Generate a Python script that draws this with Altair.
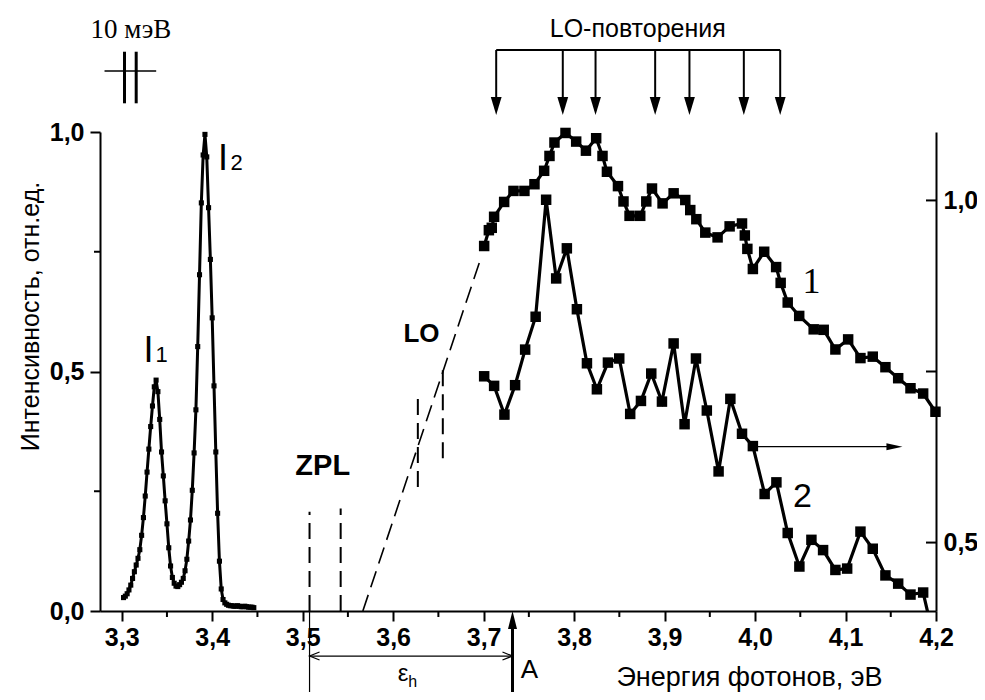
import altair as alt
import pandas as pd

# ---------------- data ----------------
# exciton lines I1 / I2 (left axis)
peak_E = [3.302, 3.304, 3.306, 3.308, 3.310, 3.312, 3.314, 3.316, 3.318, 3.320,
          3.322, 3.324, 3.326, 3.328, 3.330, 3.332, 3.334, 3.336, 3.338, 3.340,
          3.342, 3.344, 3.346, 3.348, 3.350, 3.352, 3.354, 3.356, 3.358, 3.360,
          3.362, 3.364, 3.366, 3.368, 3.370, 3.372, 3.374, 3.376, 3.378, 3.380,
          3.382, 3.384, 3.386, 3.388, 3.390, 3.392, 3.394, 3.396, 3.398, 3.400,
          3.402, 3.404, 3.406, 3.408, 3.410, 3.412, 3.414, 3.416, 3.418, 3.420,
          3.422, 3.424, 3.426, 3.428, 3.430, 3.432, 3.434, 3.436, 3.438, 3.440,
          3.442, 3.444, 3.446]
peak_I = [0.028, 0.031, 0.036, 0.044, 0.054, 0.068, 0.082, 0.096, 0.110, 0.128,
          0.158, 0.195, 0.240, 0.290, 0.338, 0.385, 0.428, 0.468, 0.482, 0.458,
          0.400, 0.332, 0.282, 0.230, 0.182, 0.132, 0.094, 0.070, 0.058, 0.052,
          0.051, 0.055, 0.060, 0.068, 0.084, 0.108, 0.146, 0.190, 0.252, 0.330,
          0.420, 0.552, 0.702, 0.852, 0.952, 0.995, 0.948, 0.842, 0.734, 0.612,
          0.470, 0.332, 0.204, 0.104, 0.046, 0.024, 0.017, 0.014, 0.012, 0.011,
          0.011, 0.010, 0.010, 0.011, 0.010, 0.009, 0.009, 0.010, 0.009, 0.008,
          0.008, 0.008, 0.007]

# curve 1 (left axis)
c1_E = [3.7006, 3.7058, 3.7090, 3.7116, 3.7227, 3.7330, 3.7451, 3.7562, 3.7669, 3.7728,
        3.7783, 3.7905, 3.8023, 3.8131, 3.8244, 3.8314, 3.8363, 3.8485, 3.8546, 3.8613,
        3.8731, 3.8798, 3.8861, 3.8978, 3.9100, 3.9229, 3.9284, 3.9351, 3.9450, 3.9586,
        3.9719, 3.9856, 3.9887, 3.9915, 3.9976, 4.0101, 4.0233, 4.0283, 4.0361, 4.0488,
        4.0648, 4.0759, 4.0888, 4.1029, 4.1165, 4.1301, 4.1441, 4.1582, 4.1718, 4.1858,
        4.1994]
c1_I = [0.762, 0.795, 0.800, 0.823, 0.854, 0.877, 0.877, 0.891, 0.919, 0.950,
        0.978, 0.998, 0.980, 0.961, 0.987, 0.950, 0.917, 0.887, 0.855, 0.825,
        0.825, 0.855, 0.882, 0.851, 0.872, 0.858, 0.837, 0.818, 0.790, 0.780,
        0.803, 0.809, 0.784, 0.756, 0.714, 0.750, 0.718, 0.685, 0.644, 0.616,
        0.588, 0.587, 0.546, 0.567, 0.528, 0.531, 0.509, 0.486, 0.465, 0.454,
        0.416]

# curve 2 (right axis)
c2_E = [3.7006, 3.7116, 3.7230, 3.7348, 3.7459, 3.7575, 3.7691, 3.7802, 3.7920, 3.8031,
        3.8142, 3.8252, 3.8374, 3.8499, 3.8620, 3.8739, 3.8853, 3.8971, 3.9100, 3.9221,
        3.9347, 3.9467, 3.9597, 3.9727, 3.9856, 3.9976, 4.0106, 4.0236, 4.0361, 4.0490,
        4.0623, 4.0752, 4.0888, 4.1018, 4.1165, 4.1301, 4.1441, 4.1582, 4.1718, 4.1858,
        4.1994]
c2_I = [0.743, 0.729, 0.687, 0.730, 0.782, 0.830, 1.001, 0.886, 0.930, 0.841,
        0.762, 0.724, 0.763, 0.769, 0.688, 0.707, 0.747, 0.706, 0.791, 0.673,
        0.769, 0.693, 0.604, 0.710, 0.659, 0.641, 0.571, 0.588, 0.514, 0.465,
        0.504, 0.489, 0.460, 0.462, 0.516, 0.491, 0.452, 0.440, 0.424, 0.427,
        0.349]

# axes ticks
x_major = [3.3, 3.4, 3.5, 3.6, 3.7, 3.8, 3.9, 4.0, 4.1, 4.2]
x_minor = [3.35, 3.45, 3.55, 3.65, 3.75, 3.85, 3.95, 4.05, 4.15]
yl_major = [0.0, 0.5, 1.0]
yl_minor = [0.25, 0.75]
yr_major = [0.5, 1.0]
yr_inner = [0.5, 0.75, 1.0]

# annotation geometry (data units: E in eV, v on left axis)
zpl_E = [3.5076, 3.5420]
zpl_top = [0.207, 0.214]
lo_E = [3.6273, 3.6549]
lo_lo = [0.259, 0.319]
lo_hi = [0.447, 0.509]
ext_E = [3.5665, 3.6977]
ext_I = [0.0, 0.741]
rep_E = [3.7139, 3.7875, 3.8237, 3.8896, 3.9275, 3.9876, 4.0278]
rep_bar_v = 1.1712
rep_tip_v = 1.0355
bar10_E = [3.281, 3.3381]
bar10_v = 1.1273
bar10_ticks_E = [3.3031, 3.3160]
bar10_ticks_v = [1.0599, 1.1676]
arrow2_E = [3.9977, 4.1629]
arrow2_v = 0.343
eps_line_E = 3.5076
eps_line_v = [0.0, -0.170]
eps_arrow_E = [3.5076, 3.7319]
eps_arrow_v = -0.094
A_E = 3.7319
A_v = [-0.180, 0.0]

SANS = "Liberation Sans"
SERIF = "Liberation Serif"
W, H = 836, 479

XS = alt.Scale(domain=[3.276, 4.2], nice=False, zero=False)
YL = alt.Scale(domain=[0.0, 1.0], nice=False, zero=False)
YR = alt.Scale(domain=[0.4, 1.1], nice=False, zero=False)

common_axis = dict(tickWidth=2, tickColor="black", domainColor="black", domainWidth=2,
                   labelFont=SANS, labelFontSize=25, labelFontWeight="bold",
                   labelColor="black", grid=False, title=None, labelOverlap=False,
                   format=".1f", labelExpr="replace(datum.label, '.', ',')")

x_axis = alt.Axis(values=x_major, tickSize=10, labelPadding=4, labelFlush=False, **common_axis)
yl_axis = alt.Axis(values=yl_major, tickSize=10, labelPadding=6, orient="left", **common_axis)
yr_axis = alt.Axis(values=yr_major, tickSize=0, ticks=False, labelPadding=7, orient="right",
                   **common_axis)


def X(field="E"):
    return alt.X(f"{field}:Q", scale=XS, axis=x_axis)


def YLf(field="v"):
    return alt.Y(f"{field}:Q", scale=YL, axis=yl_axis)


def YRf(field="v"):
    return alt.Y(f"{field}:Q", scale=YR, axis=yr_axis)


# ------------- left group -------------
df_peak = pd.DataFrame({"E": peak_E, "v": peak_I})
df_c1 = pd.DataFrame({"E": c1_E, "v": c1_I})

peak_line = alt.Chart(df_peak).mark_line(color="black", strokeWidth=3).encode(x=X(), y=YLf())
peak_pts = alt.Chart(df_peak).mark_point(shape="square", filled=True, size=26,
                                         color="black", opacity=1).encode(x=X(), y=YLf())
c1_line = alt.Chart(df_c1).mark_line(color="black", strokeWidth=3.2).encode(x=X(), y=YLf())
c1_pts = alt.Chart(df_c1).mark_point(shape="square", filled=True, size=110,
                                     color="black", opacity=1).encode(x=X(), y=YLf())

# minor ticks
xmin_ticks = alt.Chart(pd.DataFrame({"E": x_minor})).mark_rule(
    color="black", strokeWidth=2).encode(x=X(), y=alt.value(H), y2=alt.value(H + 6))
ymin_ticks = alt.Chart(pd.DataFrame({"v": yl_minor})).mark_rule(
    color="black", strokeWidth=2).encode(y=YLf(), x=alt.value(-6), x2=alt.value(0))

# dashed lines
df_zpl = pd.DataFrame({"E": zpl_E, "v": [0.0, 0.0], "v2": zpl_top})
zpl_rules = alt.Chart(df_zpl).mark_rule(color="black", strokeWidth=2,
                                        strokeDash=[16, 8]).encode(
    x=X(), y=YLf(), y2="v2:Q")
df_lo = pd.DataFrame({"E": lo_E, "v": lo_lo, "v2": lo_hi})
lo_rules = alt.Chart(df_lo).mark_rule(color="black", strokeWidth=2,
                                      strokeDash=[16, 8]).encode(
    x=X(), y=YLf(), y2="v2:Q")
df_ext = pd.DataFrame({"E": [ext_E[0]], "E2": [ext_E[1]], "v": [ext_I[0]], "v2": [ext_I[1]]})
ext_rule = alt.Chart(df_ext).mark_rule(color="black", strokeWidth=1.6,
                                       strokeDash=[17, 8]).encode(
    x=X(), x2="E2:Q", y=YLf(), y2="v2:Q")

# solid annotation segments
seg_rows = []
seg_rows.append((rep_E[0], rep_E[-1], rep_bar_v, rep_bar_v, 2))
for e in rep_E:
    seg_rows.append((e, e, rep_bar_v, rep_tip_v + 0.01, 2))
seg_rows.append((bar10_E[0], bar10_E[1], bar10_v, bar10_v, 1.3))
for e in bar10_ticks_E:
    seg_rows.append((e, e, bar10_ticks_v[0], bar10_ticks_v[1], 3))
seg_rows.append((arrow2_E[0], arrow2_E[1] - 0.008, arrow2_v, arrow2_v, 1.2))
seg_rows.append((eps_line_E, eps_line_E, eps_line_v[0], eps_line_v[1], 1.2))
seg_rows.append((eps_arrow_E[0], eps_arrow_E[1], eps_arrow_v, eps_arrow_v, 1.2))
seg_rows.append((A_E, A_E, A_v[0], A_v[1] - 0.02, 3))
df_seg = pd.DataFrame(seg_rows, columns=["E", "E2", "v", "v2", "w"])
segs = alt.Chart(df_seg).mark_rule(color="black").encode(
    x=X(), x2="E2:Q", y=YLf(), y2="v2:Q",
    strokeWidth=alt.StrokeWidth("w:Q", scale=None))

# arrowheads (tip at the data point)
down_head = alt.Chart(pd.DataFrame({"E": rep_E, "v": [rep_tip_v] * len(rep_E)})).mark_point(
    shape="M-0.3,-1L0.3,-1L0,0Z", filled=True, size=1296, color="black", opacity=1).encode(
    x=X(), y=YLf())
up_head = alt.Chart(pd.DataFrame({"E": [A_E], "v": [A_v[1]]})).mark_point(
    shape="M-0.25,1L0.25,1L0,0Z", filled=True, size=1296, color="black", opacity=1).encode(
    x=X(), y=YLf())
right_head = alt.Chart(pd.DataFrame({"E": [arrow2_E[1]], "v": [arrow2_v]})).mark_point(
    shape="M-1,-0.22L0,0L-1,0.22Z", filled=True, size=1024, color="black", opacity=1).encode(
    x=X(), y=YLf())
eps_heads = alt.Chart(pd.DataFrame({"E": eps_arrow_E, "v": [eps_arrow_v] * 2,
                                    "s": ["l", "r"]})).mark_point(
    filled=False, size=400, color="black", opacity=1, strokeWidth=1.2).encode(
    x=X(), y=YLf(),
    shape=alt.Shape("s:N", scale=alt.Scale(domain=["l", "r"],
                                           range=["M1,-0.4L0,0L1,0.4", "M-1,-0.4L0,0L-1,0.4"]),
                    legend=None))


# texts
def texts(rows, **kw):
    df = pd.DataFrame(rows, columns=["E", "v", "t"])
    return alt.Chart(df).mark_text(color="black", **kw).encode(x=X(), y=YLf(), text="t:N")


t_sans24 = texts([(3.8704, 1.1977, "LO-повторения")], font=SANS, fontSize=25,
                 baseline="alphabetic", align="center")
t_xtitle = texts([(3.9939, -0.156, "Энергия фотонов, эВ")], font=SANS, fontSize=27,
                 baseline="alphabetic", align="center")
t_ytitle = texts([(3.1992, 0.6148, "Интенсивность, отн.ед.")], font=SANS, fontSize=25,
                 baseline="middle", align="center", angle=270)
t_A = texts([(3.7507, -0.140, "A")], font=SANS, fontSize=26, baseline="alphabetic",
            align="center")
t_eps = texts([(3.6110, -0.146, "ε")], font=SANS, fontSize=24, baseline="alphabetic",
              align="center")
t_h = texts([(3.6215, -0.158, "h")], font=SANS, fontSize=16, baseline="alphabetic",
            align="center")
t_bold = texts([(3.5222, 0.3027, "ZPL")], font=SANS, fontSize=29, fontWeight="bold",
               baseline="middle", align="center")
t_lo = texts([(3.6313, 0.578, "LO")], font=SANS, fontSize=26, fontWeight="bold",
             baseline="middle", align="center")
t_I = texts([(3.3296, 0.52, "I"), (3.4120, 0.921, "I")], font=SANS, fontSize=36,
            baseline="alphabetic", align="center")
t_sub = texts([(3.3440, 0.52, "1"), (3.4269, 0.921, "2")], font=SANS, fontSize=22,
              baseline="alphabetic", align="center")
t_serif = texts([(3.3101, 1.196, "10 мэВ")], font=SERIF, fontSize=27,
                baseline="alphabetic", align="center")
t_one = texts([(4.0624, 0.664, "1")], font=SERIF, fontSize=36, baseline="alphabetic",
              align="center")
t_two = texts([(4.0524, 0.217, "2")], font=SANS, fontSize=34, baseline="alphabetic",
              align="center")

left_group = alt.layer(
    peak_line, peak_pts, c1_line, c1_pts, xmin_ticks, ymin_ticks,
    zpl_rules, lo_rules, ext_rule, segs, down_head, up_head, right_head, eps_heads,
    t_sans24, t_xtitle, t_ytitle, t_A, t_eps, t_h, t_bold, t_lo, t_I, t_sub,
    t_serif, t_one, t_two)

# ------------- right group -------------
df_c2 = pd.DataFrame({"E": c2_E, "v": c2_I})
c2_line = alt.Chart(df_c2).mark_line(color="black", strokeWidth=3.2, clip=True).encode(
    x=X(), y=YRf())
c2_pts = alt.Chart(df_c2).mark_point(shape="square", filled=True, size=110, color="black",
                                     opacity=1, clip=True).encode(x=X(), y=YRf())
r_ticks = alt.Chart(pd.DataFrame({"v": yr_inner})).mark_rule(
    color="black", strokeWidth=2).encode(y=YRf(), x=alt.value(W - 10), x2=alt.value(W))

right_group = alt.layer(c2_line, c2_pts, r_ticks)

chart = alt.layer(left_group, right_group).resolve_scale(y="independent").properties(
    width=W, height=H,
    autosize=alt.AutoSizeParams(type="none"),
    padding={"left": 92, "top": 124, "right": 41, "bottom": 81},
    background="white",
).configure_view(stroke=None)

chart.save("out.html", embed_options={"renderer": "svg", "actions": False})
